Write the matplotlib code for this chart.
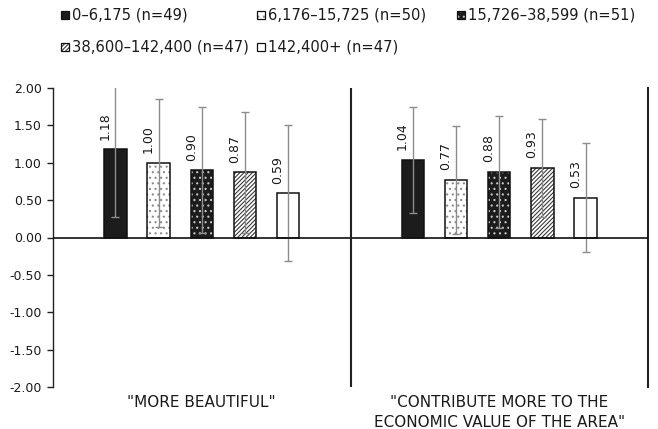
import matplotlib
matplotlib.use('Agg')
import matplotlib.pyplot as plt
import numpy as np
from matplotlib.patches import Rectangle
from matplotlib.ticker import FormatStrFormatter

plt.rcParams['font.family'] = ['DejaVu Sans']
plt.rcParams['axes.unicode_minus'] = False
plt.rcParams['hatch.linewidth'] = 0.8
plt.rcParams['text.color'] = '#1a1a1a'

# ---- data ----
groups = ['"MORE BEAUTIFUL"', '"CONTRIBUTE MORE TO THE\nECONOMIC VALUE OF THE AREA"']
series_labels = ['0–6,175 (n=49)', '6,176–15,725 (n=50)', '15,726–38,599 (n=51)',
                 '38,600–142,400 (n=47)', '142,400+ (n=47)']
means_0 = [1.18, 1.04]
means_1 = [1.00, 0.77]
means_2 = [0.90, 0.88]
means_3 = [0.87, 0.93]
means_4 = [0.59, 0.53]
sd_0 = [0.90, 0.71]
sd_1 = [0.855, 0.72]
sd_2 = [0.84, 0.75]
sd_3 = [0.81, 0.65]
sd_4 = [0.91, 0.73]
y_ticks = [-2.0, -1.5, -1.0, -0.5, 0.0, 0.5, 1.0, 1.5, 2.0]

means = [means_0, means_1, means_2, means_3, means_4]
sds = [sd_0, sd_1, sd_2, sd_3, sd_4]

# ---- styles ----
styles = [
    dict(face='#1c1c1c', hatch=None, hc=None),
    dict(face='white', hatch='...', hc='#8a8a8a'),
    dict(face='#1c1c1c', hatch='...', hc='#c8c8c8'),
    dict(face='white', hatch='////////', hc='#3a3a3a'),
    dict(face='white', hatch=None, hc=None),
]

W, H = 658, 429
fig = plt.figure(figsize=(W / 100, H / 100), dpi=100)
ax = fig.add_axes([53 / W, 42 / H, 595 / W, 299 / H])

x = np.arange(len(groups))
spacing = 0.1452
width = 0.0756
offsets = (np.arange(len(series_labels)) - 2) * spacing

for i in range(len(series_labels)):
    xs = x + offsets[i]
    st = styles[i]
    if st['hatch']:
        ax.bar(xs, means[i], width, color=st['face'], edgecolor=st['hc'],
               hatch=st['hatch'], linewidth=0, zorder=2)
        ax.bar(xs, means[i], width, facecolor='none', edgecolor='#111111',
               linewidth=1.1, zorder=3)
    else:
        ax.bar(xs, means[i], width, color=st['face'], edgecolor='#111111',
               linewidth=1.1, zorder=3)
    ax.errorbar(xs, means[i], yerr=sds[i], fmt='none', ecolor='#8c8c8c',
                elinewidth=1.0, capsize=2.6, capthick=1.0, zorder=4)
    for xi, m in zip(xs, means[i]):
        ax.annotate(f'{m:.2f}', (xi, m), xytext=(-7.5, 7), textcoords='offset points',
                    rotation=90, ha='center', va='bottom', fontsize=9)

ax.axhline(0, color='#111111', lw=1.2, zorder=5)
ax.axvline(0.5, color='#222222', lw=1.5, zorder=5)

ax.set_xlim(-0.5, 1.5)
ax.set_ylim(-2, 2)
ax.set_yticks(y_ticks)
ax.yaxis.set_major_formatter(FormatStrFormatter('%.2f'))
ax.tick_params(axis='y', length=4, width=1, direction='out', pad=4, labelsize=9,
               color='#222222', labelcolor='#1a1a1a')
ax.set_xticks(x)
ax.set_xticklabels(groups, fontsize=11)
ax.tick_params(axis='x', length=0, pad=5.5, labelcolor='#1a1a1a')
for lbl in ax.get_xticklabels():
    lbl.set_linespacing(1.45)

for s in ['top', 'bottom']:
    ax.spines[s].set_visible(False)
ax.spines['left'].set_linewidth(1.0)
ax.spines['left'].set_color('#222222')
ax.spines['right'].set_linewidth(1.5)
ax.spines['right'].set_color('#222222')

# ---- legend ----
leg_x = [60.7, 257.3, 457.3, 60.7, 257.3]
leg_y = [15, 15, 15, 47, 47]
sz = 8
for i, lab in enumerate(series_labels):
    st = styles[i]
    mx, my = leg_x[i], leg_y[i]
    rect_xy = (mx / W, (H - my - sz / 2) / H)
    if st['hatch']:
        fig.patches.append(Rectangle(rect_xy, sz / W, sz / H, transform=fig.transFigure,
                                     facecolor=st['face'], edgecolor=st['hc'],
                                     hatch=st['hatch'], linewidth=0))
        fig.patches.append(Rectangle(rect_xy, sz / W, sz / H, transform=fig.transFigure,
                                     facecolor='none', edgecolor='#111111', linewidth=0.9))
    else:
        fig.patches.append(Rectangle(rect_xy, sz / W, sz / H, transform=fig.transFigure,
                                     facecolor=st['face'], edgecolor='#111111', linewidth=0.9))
    fig.text((mx + 11) / W, 1 - my / H, lab, ha='left', va='center', fontsize=10.6)

fig.savefig('out.png', dpi=100)
